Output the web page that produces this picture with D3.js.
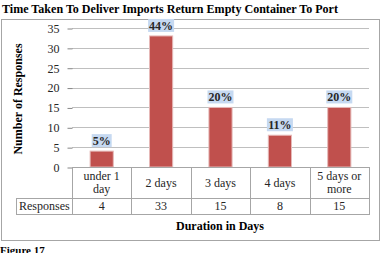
<!DOCTYPE html>
<html>
<head>
<meta charset="utf-8">
<script src="https://cdn.jsdelivr.net/npm/d3@7"></script>
<style>
  body { margin: 0; background: #fff; }
  svg { display: block; }
  text { font-family: "Liberation Serif", "Times New Roman", serif; }
</style>
</head>
<body>
<div id="chart"></div>
<script>
// chart data
var categories = ["under 1 day", "2 days", "3 days", "4 days", "5 days or more"];
var categoryLines = [["under 1", "day"], ["2 days"], ["3 days"], ["4 days"], ["5 days or", "more"]];
var responses = [4, 33, 15, 8, 15];
var pctLabels = ["5%", "44%", "20%", "11%", "20%"];
var yTicks = [0, 5, 10, 15, 20, 25, 30, 35];

var svgWidth = 381, svgHeight = 253;
var plot = { left: 72, right: 369, top: 28, bottom: 167 };

var svg = d3.select("#chart").append("svg")
    .attr("width", svgWidth)
    .attr("height", svgHeight);

// outer border of the chart
svg.append("rect")
    .attr("x", 1.5).attr("y", 19.5)
    .attr("width", 378).attr("height", 221)
    .attr("fill", "none")
    .attr("stroke", "#a6a6a6");

// title
svg.append("text")
    .attr("x", 2).attr("y", 13)
    .attr("font-size", 12).attr("font-weight", "bold")
    .attr("textLength", 336).attr("lengthAdjust", "spacingAndGlyphs")
    .text("Time  Taken To Deliver Imports  Return  Empty  Container  To Port");

// scales
var x = d3.scaleBand()
    .domain(categories)
    .range([plot.left, plot.right])
    .paddingInner(0.61)
    .paddingOuter(0.305);

var y = d3.scaleLinear()
    .domain([0, 35])
    .range([plot.bottom, plot.top]);

// gridlines
svg.append("g")
    .selectAll("line")
    .data(yTicks.filter(function (d) { return d > 0; }))
    .enter().append("line")
    .attr("x1", plot.left).attr("x2", plot.right)
    .attr("y1", function (d) { return Math.round(y(d)) + 0.5; })
    .attr("y2", function (d) { return Math.round(y(d)) + 0.5; })
    .attr("stroke", "#bfbfbf");

// y axis
var leftAxis = d3.axisLeft(y).tickValues(yTicks).tickSize(5).tickPadding(8);
var yAxisG = svg.append("g")
    .attr("transform", "translate(" + (plot.left + 0.5) + ",0.5)")
    .call(leftAxis);
yAxisG.select(".domain").remove();
yAxisG.selectAll(".tick line").attr("stroke", "#868686");
yAxisG.selectAll(".tick text")
    .attr("font-family", "Liberation Serif")
    .attr("font-size", 12)
    .attr("fill", "#262626");

// y axis title
svg.append("text")
    .attr("transform", "translate(22,99) rotate(-90)")
    .attr("text-anchor", "middle")
    .attr("font-size", 12).attr("font-weight", "bold")
    .text("Number  of  Responses");

// bars
svg.append("g")
    .selectAll("rect")
    .data(responses)
    .enter().append("rect")
    .attr("x", function (d, i) { return x(categories[i]); })
    .attr("y", function (d) { return y(d); })
    .attr("width", x.bandwidth())
    .attr("height", function (d) { return y(0) - y(d); })
    .attr("fill", "#c0504d")
    .attr("stroke", "#e6b9b8")
    .attr("stroke-width", 1);

// percent labels with light blue boxes
var labelG = svg.append("g")
    .selectAll("g")
    .data(responses)
    .enter().append("g")
    .attr("transform", function (d, i) {
        return "translate(" + (x(categories[i]) + x.bandwidth() / 2) + "," + (y(d) - 4) + ")";
    });

labelG.append("rect")
    .attr("x", function (d, i) { return pctLabels[i].length === 2 ? -10 : -13; })
    .attr("y", -13)
    .attr("width", function (d, i) { return pctLabels[i].length === 2 ? 20 : 26; })
    .attr("height", 13)
    .attr("fill", "#c6d9f1");

labelG.append("text")
    .attr("text-anchor", "middle")
    .attr("y", -2)
    .attr("font-size", 12).attr("font-weight", "bold")
    .attr("fill", "#262626")
    .text(function (d, i) { return pctLabels[i]; });

// data table under the axis
var step = x.step();
var tableTop = plot.bottom, rowSplit = 198, tableBottom = 214, headLeft = 16;
var tbl = svg.append("g").attr("stroke", "#a6a6a6").attr("fill", "none");

// horizontal lines
tbl.append("line").attr("x1", plot.left).attr("x2", plot.right)
    .attr("y1", tableTop + 0.5).attr("y2", tableTop + 0.5);
tbl.append("line").attr("x1", headLeft).attr("x2", plot.right)
    .attr("y1", rowSplit + 0.5).attr("y2", rowSplit + 0.5);
tbl.append("line").attr("x1", headLeft).attr("x2", plot.right)
    .attr("y1", tableBottom + 0.5).attr("y2", tableBottom + 0.5);
tbl.append("line").attr("x1", headLeft + 0.5).attr("x2", headLeft + 0.5)
    .attr("y1", rowSplit).attr("y2", tableBottom + 1);

// vertical lines at category boundaries
tbl.selectAll("line.v")
    .data(d3.range(categories.length + 1))
    .enter().append("line")
    .attr("class", "v")
    .attr("x1", function (i) { return Math.round(plot.left + i * step) + 0.5; })
    .attr("x2", function (i) { return Math.round(plot.left + i * step) + 0.5; })
    .attr("y1", tableTop)
    .attr("y2", tableBottom + 1);

// category labels
var catG = svg.append("g")
    .selectAll("text")
    .data(categoryLines)
    .enter().append("text")
    .attr("text-anchor", "middle")
    .attr("font-size", 12)
    .attr("fill", "#262626")
    .attr("transform", function (d, i) {
        var cx = plot.left + (i + 0.5) * step;
        var cy = d.length === 2 ? 180 : 187;
        return "translate(" + cx + "," + cy + ")";
    });
catG.selectAll("tspan")
    .data(function (d) { return d; })
    .enter().append("tspan")
    .attr("x", 0)
    .attr("dy", function (d, i) { return i === 0 ? 0 : 13; })
    .text(function (d) { return d; });

// responses row
svg.append("text")
    .attr("x", 19).attr("y", 210)
    .attr("font-size", 12).attr("fill", "#262626")
    .text("Responses");
svg.append("g")
    .selectAll("text")
    .data(responses)
    .enter().append("text")
    .attr("x", function (d, i) { return plot.left + (i + 0.5) * step; })
    .attr("y", 210)
    .attr("text-anchor", "middle")
    .attr("font-size", 12).attr("fill", "#262626")
    .text(function (d) { return d; });

// x axis title
svg.append("text")
    .attr("x", 220).attr("y", 230)
    .attr("text-anchor", "middle")
    .attr("font-size", 12).attr("font-weight", "bold")
    .text("Duration  in  Days");

// figure caption
svg.append("text")
    .attr("x", 0).attr("y", 254)
    .attr("font-size", 11).attr("font-weight", "bold")
    .text("Figure 17");
</script>
</body>
</html>
